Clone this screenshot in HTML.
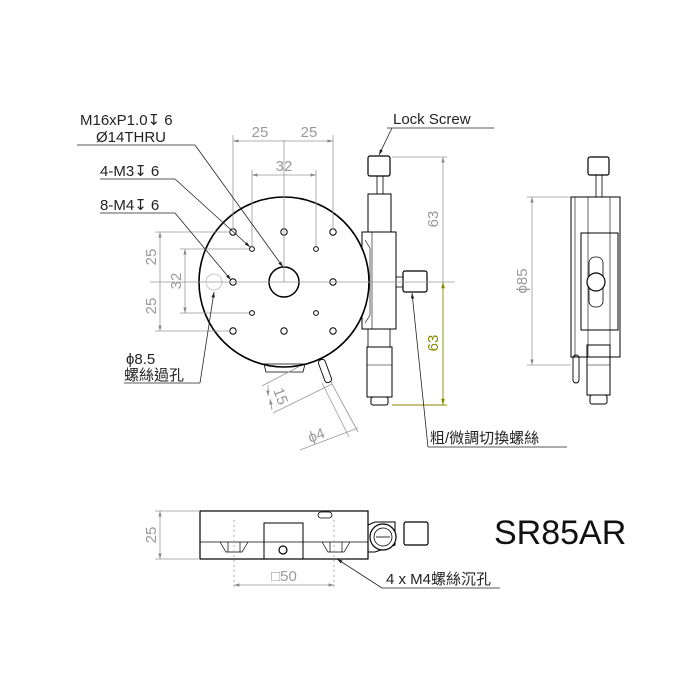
<!DOCTYPE html>
<html><head><meta charset="utf-8"><style>
html,body{margin:0;padding:0;background:#fff;}
svg{display:block;font-family:"Liberation Sans","Noto Sans CJK TC",sans-serif;}
.k{stroke:#000;fill:none;}
.g{stroke:#999;fill:none;stroke-width:0.8;}
.dg{fill:#999;font-size:15px;}
.t{fill:#222;font-size:15px;}
.sym{font-family:"DejaVu Sans",sans-serif;font-size:15px;}
</style></head><body>
<svg width="700" height="700" viewBox="0 0 700 700" xmlns="http://www.w3.org/2000/svg">
<defs>
<marker id="a" viewBox="0 0 10 10" refX="10" refY="5" markerWidth="7" markerHeight="7" orient="auto-start-reverse"><path d="M0,2 L10,5 L0,8 z" fill="#888"/></marker>
<marker id="b" viewBox="0 0 10 10" refX="10" refY="5" markerWidth="7" markerHeight="7" orient="auto-start-reverse"><path d="M0,2 L10,5 L0,8 z" fill="#222"/></marker>
<marker id="o" viewBox="0 0 10 10" refX="10" refY="5" markerWidth="7" markerHeight="7" orient="auto-start-reverse"><path d="M0,2 L10,5 L0,8 z" fill="#8a8a00"/></marker>
</defs>

<rect x="362" y="232" width="34" height="97" class="k" stroke-width="1"/>
<line x1="372" y1="232" x2="372" y2="329" class="k" stroke-width="0.6"/>
<path d="M365,240 L370,248 L370,315 L365,323" class="k" stroke-width="0.6"/>
<circle cx="284" cy="282" r="85" fill="#fff" stroke="#000" stroke-width="1.6"/>
<circle cx="284" cy="282" r="15" fill="#fff" stroke="#000" stroke-width="1.5"/>
<g fill="#fff" stroke="#000" stroke-width="1">
<circle cx="233" cy="232" r="3.2"/><circle cx="284" cy="232" r="3.2"/><circle cx="333" cy="232" r="3.2"/>
<circle cx="233" cy="282" r="3.2"/><circle cx="333" cy="282" r="3.2"/>
<circle cx="233" cy="331" r="3.2"/><circle cx="284" cy="331" r="3.2"/><circle cx="333" cy="331" r="3.2"/>
<circle cx="252" cy="249" r="2.4"/><circle cx="316" cy="249" r="2.4"/><circle cx="252" cy="313" r="2.4"/><circle cx="316" cy="313" r="2.4"/>
</g>
<circle cx="214" cy="282" r="8" fill="none" stroke="#bbb" stroke-width="0.8"/>
<path d="M264,364 L305,364 L303,372 L266,372 z" class="k" stroke-width="0.8" fill="#fff"/>
<g transform="translate(325,371) rotate(-20)"><rect x="-3.5" y="-12" width="7" height="24" rx="3" fill="#fff" stroke="#000" stroke-width="0.9"/></g>

<rect x="368" y="156" width="22" height="20" rx="2" class="k" stroke-width="1.2" fill="#fff"/>
<rect x="377" y="176" width="6" height="18" class="k" stroke-width="0.8"/>
<rect x="368" y="194" width="23" height="38" class="k" stroke-width="1"/>
<rect x="368" y="329" width="22" height="18" class="k" stroke-width="0.8"/>
<rect x="367" y="347" width="25" height="50" class="k" stroke-width="1"/>
<line x1="367" y1="365" x2="392" y2="365" class="k" stroke-width="0.6"/>
<rect x="371" y="397" width="17" height="8" rx="2" class="k" stroke-width="1"/>
<rect x="396" y="277" width="7" height="10" class="k" stroke-width="0.8"/>
<rect x="403" y="271" width="24" height="21" rx="2" class="k" stroke-width="1.2" fill="#fff"/>

<line x1="284" y1="140" x2="284" y2="282" class="g" stroke-width="0.5"/>
<line x1="150" y1="282" x2="455" y2="282" class="g" stroke-width="0.5"/>

<g class="g">
<line x1="233" y1="135" x2="233" y2="229"/><line x1="333" y1="135" x2="333" y2="229"/>
<line x1="233" y1="141" x2="284" y2="141" marker-start="url(#a)"/><line x1="284" y1="141" x2="333" y2="141" marker-end="url(#a)"/>
<line x1="252" y1="170" x2="252" y2="246"/><line x1="316" y1="170" x2="316" y2="246"/>
<line x1="252" y1="175" x2="316" y2="175" marker-start="url(#a)" marker-end="url(#a)"/>
<line x1="155" y1="232" x2="230" y2="232"/><line x1="155" y1="331" x2="230" y2="331"/>
<line x1="160" y1="232" x2="160" y2="282" marker-start="url(#a)"/><line x1="160" y1="282" x2="160" y2="331" marker-end="url(#a)"/>
<line x1="180" y1="249" x2="249" y2="249"/><line x1="180" y1="313" x2="249" y2="313"/>
<line x1="185" y1="249" x2="185" y2="313" marker-start="url(#a)" marker-end="url(#a)"/>
<line x1="392" y1="157" x2="447" y2="157"/>
<line x1="443" y1="157" x2="443" y2="282" marker-start="url(#a)"/>
</g>
<text class="dg" x="260" y="137" text-anchor="middle">25</text>
<text class="dg" x="309" y="137" text-anchor="middle">25</text>
<text class="dg" x="284" y="171" text-anchor="middle">32</text>
<text class="dg" transform="translate(156,257) rotate(-90)" text-anchor="middle">25</text>
<text class="dg" transform="translate(156,306) rotate(-90)" text-anchor="middle">25</text>
<text class="dg" transform="translate(181,281) rotate(-90)" text-anchor="middle">32</text>
<text class="dg" transform="translate(438,219) rotate(-90)" text-anchor="middle">63</text>
<line x1="392" y1="405" x2="447" y2="405" stroke="#8a8a00" stroke-width="0.9"/>
<line x1="443" y1="282" x2="443" y2="405" stroke="#8a8a00" stroke-width="0.9" marker-start="url(#o)" marker-end="url(#o)"/>
<text transform="translate(438,343) rotate(-90)" text-anchor="middle" fill="#8a8a00" font-size="15">63</text>

<g class="g">
<line x1="300" y1="366" x2="262" y2="386"/><line x1="332" y1="384" x2="273" y2="413"/>
<line x1="268" y1="385" x2="268" y2="396" marker-end="url(#a)"/><line x1="272" y1="410" x2="270" y2="399" marker-end="url(#a)"/>
<line x1="322" y1="383" x2="349" y2="437"/><line x1="331" y1="382" x2="358" y2="432"/>
<line x1="300" y1="450" x2="358" y2="428"/>
</g>
<text class="dg" transform="translate(276,398) rotate(70)" text-anchor="middle">15</text>
<text class="dg" transform="translate(318,440) rotate(-20)" text-anchor="middle">ϕ4</text>

<g stroke="#222" stroke-width="0.8" fill="none">
<line x1="77" y1="145" x2="195" y2="145"/><line x1="195" y1="145" x2="283" y2="267" marker-end="url(#b)"/>
<line x1="100" y1="179" x2="175" y2="179"/><line x1="175" y1="179" x2="250" y2="247" marker-end="url(#b)"/>
<line x1="100" y1="213" x2="175" y2="213"/><line x1="175" y1="213" x2="231" y2="280" marker-end="url(#b)"/>
<line x1="124" y1="383" x2="200" y2="383"/><line x1="200" y1="383" x2="214" y2="292" marker-end="url(#b)"/>
<line x1="387" y1="128" x2="494" y2="128"/><line x1="392" y1="128" x2="379" y2="155" marker-end="url(#b)"/>
<line x1="428" y1="447" x2="567" y2="447"/><line x1="428" y1="447" x2="412" y2="293" marker-end="url(#b)"/>
</g>
<text class="t" x="80" y="125">M16xP1.0<tspan class="sym">↧</tspan> 6</text>
<text class="t" x="96" y="142">Ø14THRU</text>
<text class="t" x="100" y="176">4-M3<tspan class="sym">↧</tspan> 6</text>
<text class="t" x="100" y="210">8-M4<tspan class="sym">↧</tspan> 6</text>
<text class="t" x="126" y="364">ϕ8.5</text>
<text class="t" x="124" y="380">螺絲過孔</text>
<text class="t" x="393" y="124">Lock Screw</text>
<text class="t" x="430" y="443">粗/微調切換螺絲</text>

<rect x="588" y="157" width="21" height="18" rx="2" class="k" stroke-width="1.2"/>
<rect x="596" y="175" width="6" height="22" class="k" stroke-width="0.8"/>
<rect x="571" y="197" width="49" height="160" class="k" stroke-width="1"/>
<line x1="575" y1="197" x2="575" y2="357" class="k" stroke-width="0.6"/>
<line x1="588" y1="197" x2="588" y2="357" class="k" stroke-width="0.6"/>
<line x1="610" y1="197" x2="610" y2="357" class="k" stroke-width="0.6"/>
<rect x="581" y="233" width="37" height="97" fill="#fff" class="k" stroke-width="1"/>
<rect x="589" y="257" width="14" height="50" rx="6" class="k" stroke-width="0.8"/>
<circle cx="596" cy="282" r="9" fill="#fff" stroke="#000" stroke-width="1.2"/>
<rect x="587" y="345" width="23" height="50" class="k" stroke-width="1" fill="#fff"/>
<line x1="587" y1="365" x2="610" y2="365" class="k" stroke-width="0.6"/>
<rect x="590" y="395" width="17" height="9" rx="2" class="k" stroke-width="1"/>
<rect x="573" y="355" width="6" height="28" rx="3" class="k" stroke-width="0.9" fill="#fff"/>
<g class="g"><line x1="527" y1="197" x2="571" y2="197"/><line x1="527" y1="365" x2="571" y2="365"/>
<line x1="532" y1="197" x2="532" y2="365" marker-start="url(#a)" marker-end="url(#a)"/></g>
<text class="dg" transform="translate(527,281) rotate(-90)" text-anchor="middle">ϕ85</text>

<rect x="200" y="511" width="168" height="48" class="k" stroke-width="1.2"/>
<line x1="200" y1="542" x2="368" y2="542" class="k" stroke-width="0.8"/>
<rect x="264" y="523" width="39" height="36" class="k" stroke-width="1" fill="#fff"/>
<circle cx="283" cy="550" r="4" class="k" stroke-width="1.2"/>
<rect x="318" y="512" width="14" height="6" rx="3" class="k" stroke-width="0.8"/>
<path d="M220,542 L226,552 L242,552 L248,542 M228,542 L228,552 M240,542 L240,552" class="k" stroke-width="0.7"/>
<path d="M322,542 L328,552 L344,552 L350,542 M330,542 L330,552 M342,542 L342,552" class="k" stroke-width="0.7"/>
<path d="M368,525 L375,522 L395,522 L395,545 L375,552 L368,552" class="k" stroke-width="1"/>
<circle cx="383" cy="537" r="13" fill="#fff" stroke="#000" stroke-width="1.2"/>
<circle cx="383" cy="537" r="9" class="k" stroke-width="0.8"/>
<line x1="376" y1="537" x2="390" y2="537" class="k" stroke-width="0.8"/>
<rect x="404" y="522" width="24" height="23" rx="2" class="k" stroke-width="1.2"/>
<g class="g"><line x1="155" y1="511" x2="200" y2="511"/><line x1="155" y1="559" x2="200" y2="559"/>
<line x1="160" y1="511" x2="160" y2="559" marker-start="url(#a)" marker-end="url(#a)"/>
<line x1="234" y1="520" x2="234" y2="590" stroke-dasharray="2 3"/><line x1="334" y1="520" x2="334" y2="590" stroke-dasharray="2 3"/>
<line x1="234" y1="585" x2="334" y2="585" marker-start="url(#a)" marker-end="url(#a)"/></g>
<text class="dg" transform="translate(156,535) rotate(-90)" text-anchor="middle">25</text>
<text class="dg" x="284" y="581" text-anchor="middle">□50</text>
<line x1="382" y1="588" x2="337" y2="559" stroke="#222" stroke-width="0.8" marker-end="url(#b)"/>
<line x1="382" y1="588" x2="500" y2="588" stroke="#222" stroke-width="0.8"/>
<text class="t" x="386" y="584">4 x M4螺絲沉孔</text>
<text x="494" y="544" font-size="34" fill="#111">SR85AR</text>
</svg>
</body></html>
